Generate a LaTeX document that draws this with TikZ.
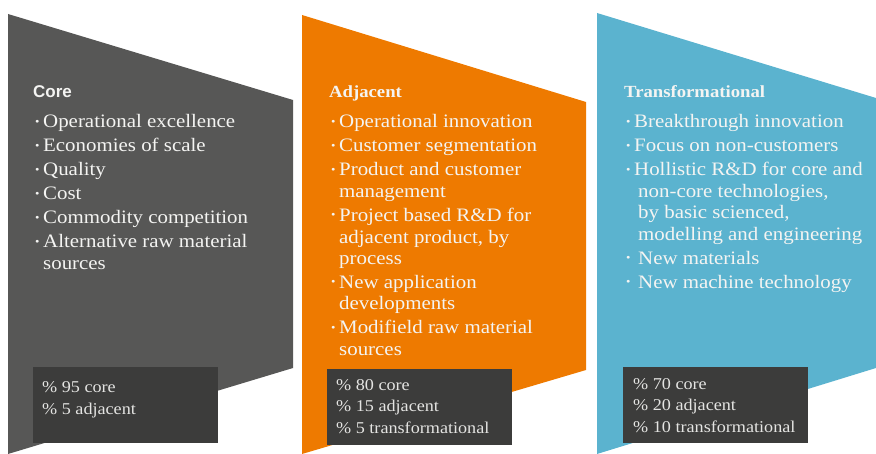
\documentclass[tikz,border=0pt]{standalone}
\usepackage{fontspec}
\setmainfont{Liberation Serif}[FakeStretch=1.1]
\newfontfamily\titlesans{Liberation Sans}
\usetikzlibrary{positioning}

\definecolor{coregray}{HTML}{575756}
\definecolor{adjorange}{HTML}{EE7A00}
\definecolor{transblue}{HTML}{5BB3CF}
\definecolor{boxdark}{HTML}{3C3C3B}
\definecolor{textwhite}{HTML}{F4F4F2}
\definecolor{boxtext}{HTML}{E4E4E2}

\newcommand{\bul}{\makebox[10pt][l]{\hspace{2pt}\raisebox{0.3ex}{\scalebox{0.6}{\textbullet}}}}
\newcommand{\cont}{\hspace*{10pt}}

\tikzset{
  coltext/.style={anchor=base west, inner sep=0pt, align=left, text=textwhite,
    font=\fontsize{19}{21.5}\selectfont},
  statbox/.style={anchor=north west, fill=boxdark, minimum width=185pt,
    minimum height=76pt, inner sep=0pt},
  stattext/.style={anchor=base west, inner sep=0pt, align=left, text=boxtext,
    font=\fontsize{16.5}{21.5}\selectfont},
}

\begin{document}
\begin{tikzpicture}[x=1pt, y=-1pt]
\useasboundingbox (0,0) rectangle (876,454);

% the three arrow shapes
\fill[coregray]  (8,14)   -- (293,100) -- (293,368) -- (8,454)   -- cycle;
\fill[adjorange] (302,15) -- (586,102) -- (586,370) -- (302,454) -- cycle;
\fill[transblue] (597,13) -- (876,98)  -- (876,368) -- (597,454) -- cycle;

% column texts (base = baseline of the last line)
\node[coltext] (core) at (33,269.5) {%
  {\fontsize{17}{21.5}\selectfont\titlesans\bfseries Core}\\[8.5pt]
  \bul Operational excellence\\[2.5pt]
  \bul Economies of scale\\[2.5pt]
  \bul Quality\\[2.5pt]
  \bul Cost\\[2.5pt]
  \bul Commodity competition\\[2.5pt]
  \bul Alternative raw material\\
  \cont sources};

\node[coltext] (adjacent) at (329,355.5) {%
  {\fontsize{17}{21.5}\selectfont\bfseries Adjacent}\\[8.5pt]
  \bul Operational innovation\\[2.5pt]
  \bul Customer segmentation\\[2.5pt]
  \bul Product and customer\\
  \cont management\\[2.5pt]
  \bul Project based R\&D for\\
  \cont adjacent product, by\\
  \cont process\\[2.5pt]
  \bul New application\\
  \cont developments\\[2.5pt]
  \bul Modifield raw material\\
  \cont sources};

\node[coltext] (transformational) at (624,288.5) {%
  {\fontsize{17}{21.5}\selectfont\bfseries Transformational}\\[8.5pt]
  \bul Breakthrough innovation\\[2.5pt]
  \bul Focus on non-customers\\[2.5pt]
  \bul Hollistic R\&D for core and\\
  \cont\hspace*{4pt}non-core technologies,\\
  \cont\hspace*{4pt}by basic scienced,\\
  \cont\hspace*{4pt}modelling and engineering\\[2.5pt]
  \bul\hspace*{4pt}New materials\\[2.5pt]
  \bul\hspace*{4pt}New machine technology};

% share boxes
\node[statbox] (corebox) at (33,367) {};
\node[stattext] (coreshare) at ([xshift=9pt, yshift=-47pt]corebox.north west) {%
  \% 95 core\\
  \% 5 adjacent};

\node[statbox] (adjacentbox) at (327,369) {};
\node[stattext] (adjacentshare) at ([xshift=9pt, yshift=-64pt]adjacentbox.north west) {%
  \% 80 core\\
  \% 15 adjacent\\
  \% 5 transformational};

\node[statbox] (transformationalbox) at (623,367) {};
\node[stattext] (transformationalshare) at ([xshift=10pt, yshift=-65pt]transformationalbox.north west) {%
  \% 70 core\\
  \% 20 adjacent\\
  \% 10 transformational};

\end{tikzpicture}
\end{document}
